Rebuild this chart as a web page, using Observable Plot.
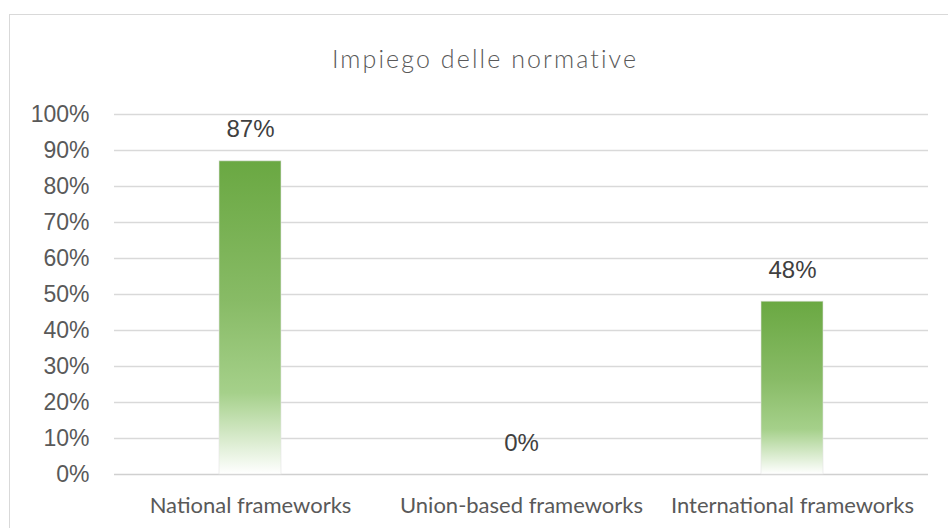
<!DOCTYPE html>
<html>
<head>
<meta charset="utf-8">
<script src="https://cdn.jsdelivr.net/npm/d3@7"></script>
<script src="https://cdn.jsdelivr.net/npm/@observablehq/plot@0.6"></script>
<style>
  html, body { margin: 0; padding: 0; background: #fff; overflow: hidden; }
  #wrap { position: relative; width: 948px; height: 528px; overflow: hidden; }
  #frame { position: absolute; left: 9px; top: 14px; width: 980px; height: 560px;
           border: 1.5px solid #d9d9d9; box-sizing: border-box; }
  #title { position: absolute; left: 0; width: 970px; top: 46px; text-align: center;
           font-family: Lato, "Open Sans", sans-serif; font-weight: 300; font-size: 25px;
           line-height: 25px; letter-spacing: 2.1px; color: #595959; }
  #chart { position: absolute; left: 0; top: 0; }
</style>
</head>
<body>
<div id="wrap">
  <div id="frame"></div>
  <div id="chart"></div>
  <div id="title">Impiego delle normative</div>
</div>
<script>
const categories = ["National frameworks", "Union-based frameworks", "International frameworks"];
const values = [0.87, 0.00, 0.48];
const valueLabels = ["87%", "0%", "48%"];
const yTicks = [0, 0.1, 0.2, 0.3, 0.4, 0.5, 0.6, 0.7, 0.8, 0.9, 1.0];
const yTickLabels = ["0%", "10%", "20%", "30%", "40%", "50%", "60%", "70%", "80%", "90%", "100%"];

const data = categories.map((c, i) => ({category: c, value: values[i], label: valueLabels[i]}));

const chart = Plot.plot({
  width: 948,
  height: 528,
  marginLeft: 114,
  marginRight: 20,
  marginTop: 114,
  marginBottom: 54,
  style: {background: "transparent", overflow: "visible"},
  x: {domain: categories, paddingInner: 0.7715, paddingOuter: 0.38575, align: 0.5, axis: null, label: null},
  y: {domain: [0, 1], axis: null, label: null},
  marks: [
    Plot.ruleY(yTicks.filter(d => d > 0), {stroke: "#d9d9d9", strokeWidth: 1.5}),
    Plot.ruleY([0], {stroke: "#d0d0d0", strokeWidth: 1.5}),
    Plot.barY(data, {x: "category", y: "value", fill: "#70ad47"}),
    Plot.text(data, {x: "category", y: "value", text: "label", dy: -24, lineAnchor: "bottom",
      fontSize: 24, fontFamily: "Liberation Sans, Arial, sans-serif", fill: "#404040"}),
    Plot.axisY(yTicks, {tickSize: 0, tickPadding: 25, tickFormat: (d, i) => yTickLabels[i], label: null,
      fontSize: 23, fontFamily: "Liberation Sans, Arial, sans-serif", fill: "#595959"}),
    Plot.axisX({tickSize: 0, tickPadding: 23, label: null, fontSize: 22, fontFamily: "Lato, sans-serif", fill: "#595959"})
  ]
});

// gradient fill for the bars
const svg = d3.select(chart);
const defs = svg.insert("defs", ":first-child");
const grad = defs.append("linearGradient").attr("id", "barGrad")
  .attr("x1", 0).attr("y1", 0).attr("x2", 0).attr("y2", 1);
grad.append("stop").attr("offset", "0").attr("stop-color", "#6aa842");
grad.append("stop").attr("offset", "0.45").attr("stop-color", "#88bb66");
grad.append("stop").attr("offset", "0.74").attr("stop-color", "#a5d08a");
grad.append("stop").attr("offset", "1").attr("stop-color", "#ffffff");
svg.selectAll('g[aria-label="bar"] rect').attr("fill", "url(#barGrad)")
  .attr("stroke", "#e4e4e4").attr("stroke-opacity", 0.6).attr("stroke-width", 1);

document.getElementById("chart").appendChild(chart);
</script>
</body>
</html>
